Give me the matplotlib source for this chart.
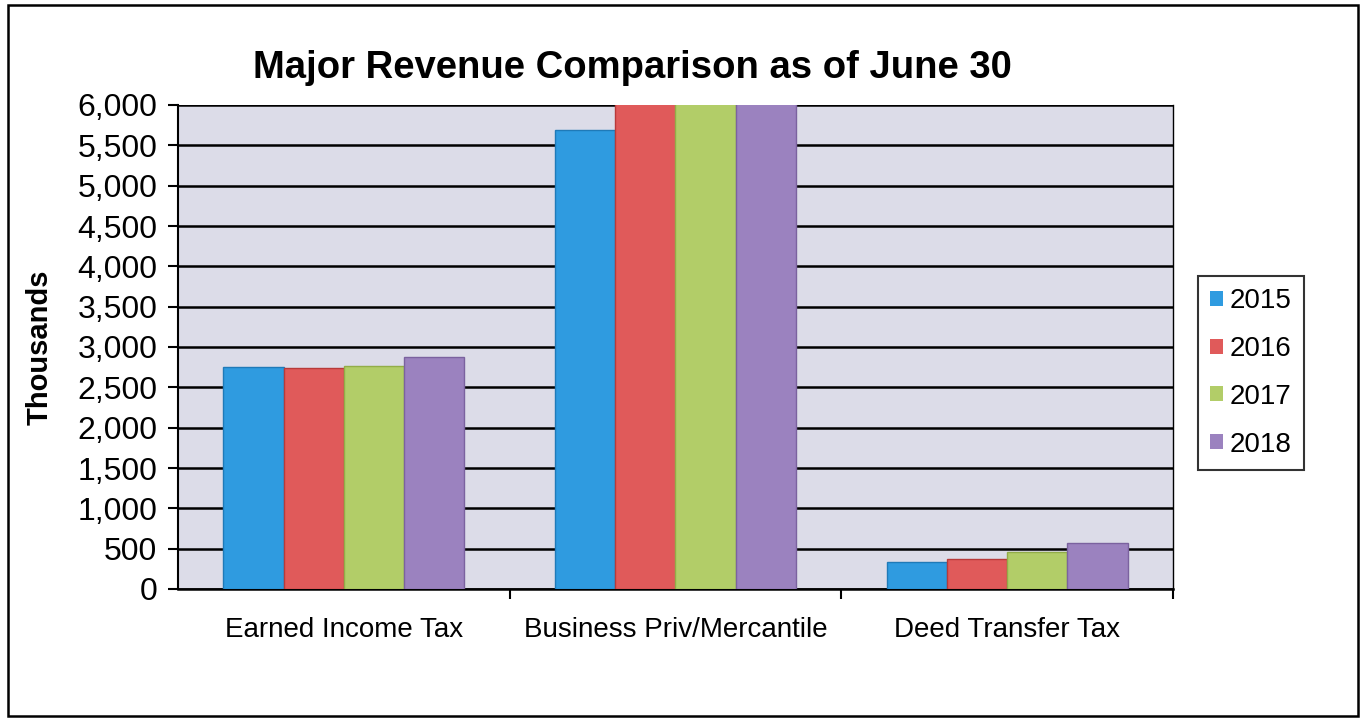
import matplotlib
matplotlib.use("Agg")
import matplotlib.pyplot as plt
import numpy as np
from matplotlib.patches import Rectangle

categories = ["Earned Income Tax", "Business Priv/Mercantile", "Deed Transfer Tax"]
years = ["2015", "2016", "2017", "2018"]
v2015 = [2750, 5690, 330]
v2016 = [2740, 6300, 375]
v2017 = [2765, 6400, 460]
v2018 = [2875, 6500, 570]
series = [v2015, v2016, v2017, v2018]
colors = ["#2f9be0", "#e05a5a", "#b2cd68", "#9b82bf"]
edges = ["#1f7ab8", "#b83a3a", "#92ad48", "#7b629f"]
yticks = list(range(0, 6001, 500))

plt.rcParams['font.family'] = ['Liberation Sans', 'DejaVu Sans']
fig = plt.figure(figsize=(13.64, 7.19), dpi=100)
fig.patch.set_facecolor("white")
fig.add_artist(Rectangle((8/1364, 3/719), 1350/1364, 711/719, transform=fig.transFigure,
                         fill=False, edgecolor="black", linewidth=1.8))

ax = fig.add_axes([178/1364, 1-589/719, (1173-178)/1364, (589-105)/719])
ax.set_facecolor("#dcdce8")
x = np.arange(len(categories))
w = 1/5.5
for i, (vals, c, e) in enumerate(zip(series, colors, edges)):
    ax.bar(x + (i-1.5)*w, vals, width=w, color=c, edgecolor=e, linewidth=1.0,
           label=years[i], zorder=3, clip_on=True)
ax.set_xlim(-0.5, 2.5)
ax.set_ylim(0, 6000)
ax.set_yticks(yticks)
ax.set_yticklabels([f"{t:,}" for t in yticks], fontsize=23)
ax.yaxis.grid(True, color="black", linewidth=1.8, zorder=1)
ax.set_axisbelow(True)
ax.set_xticks(x)
ax.set_xticklabels(categories, fontsize=20)
ax.tick_params(axis='x', length=0, pad=20)
ax.set_xticks([0.5, 1.5, 2.5], minor=True)
ax.tick_params(axis='x', which='minor', length=7, width=1.5, direction='out')
ax.tick_params(axis='y', length=7, width=1.5, direction='out', pad=8)
for s in ["top"]:
    ax.spines[s].set_visible(False)
ax.spines["right"].set_linewidth(1.0)
ax.spines["left"].set_linewidth(1.5)
ax.spines["bottom"].set_linewidth(1.8)
ax.set_ylabel("Thousands", fontsize=21, fontweight="bold")
ax.yaxis.set_label_coords((54-178)/995, 0.5)

fig.text(632/1364, 1-68/719, "Major Revenue Comparison as of June 30", ha="center", va="center",
         fontsize=27.5, fontweight="bold")

leg = fig.legend(loc="center", bbox_to_anchor=(1251/1364, 1-373/719), fontsize=20,
                 frameon=True, fancybox=False, edgecolor="black", handlelength=0.45,
                 handleheight=0.45, handletextpad=0.25, labelspacing=0.78, borderpad=0.45,
                 borderaxespad=0)
leg.get_frame().set_linewidth(1.5)
for h in leg.legend_handles:
    h.set_edgecolor("none")

fig.savefig("out.png", dpi=100)
